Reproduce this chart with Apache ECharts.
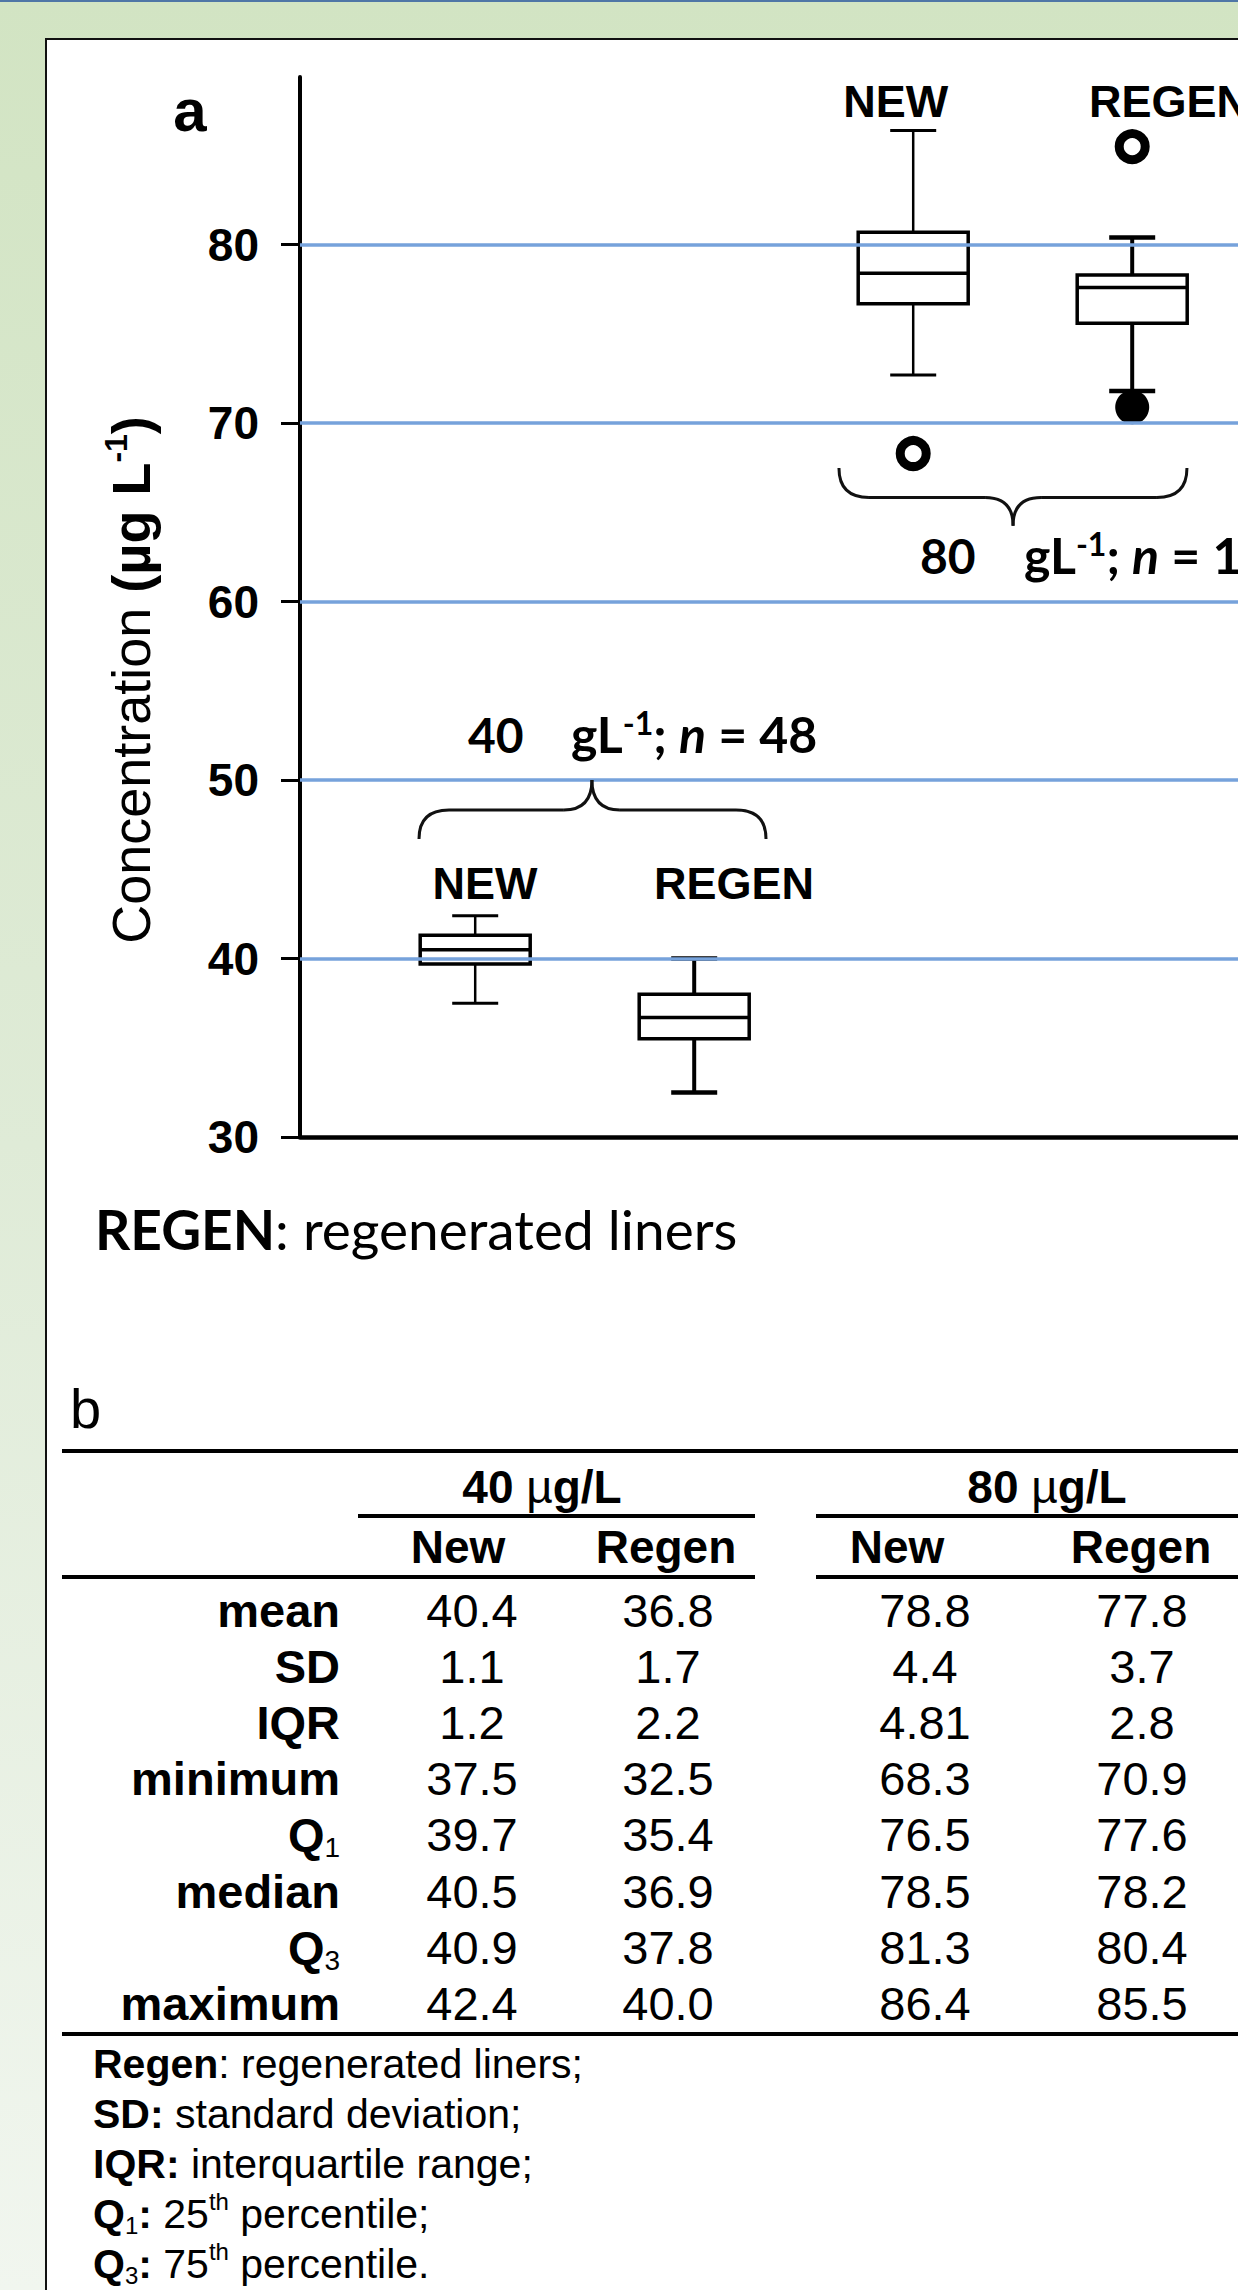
<!DOCTYPE html>
<html><head><meta charset="utf-8">
<script src="https://cdn.jsdelivr.net/npm/echarts@6/dist/echarts.min.js"></script>
<style>
html,body{margin:0;padding:0;overflow:hidden;width:1238px;height:2290px;}
#frame{position:relative;width:1238px;height:2290px;overflow:hidden;background:linear-gradient(to bottom,#d2e4c3 0%,#dfebd7 50%,#f1f6ef 100%);}
#topline{position:absolute;left:0;top:0;width:1238px;height:2px;background:#4f76a6;}
#panel{position:absolute;left:45px;top:38px;width:1500px;height:2400px;background:#fff;border:2px solid #111;}
#chart{position:absolute;left:0;top:0;width:1500px;height:2290px;}
</style></head><body>
<div id="frame"><div id="topline"></div><div id="panel"></div><div id="chart"></div></div>
<script>
// ---------- panel a data ----------
const boxLabels = ['NEW', 'REGEN', 'NEW', 'REGEN'];
const groupLabels = ['40', '80'];
const groupN = ['48', '1'];
// lower whisker, Q1, median, Q3, upper whisker
const boxNew40 = [37.5, 39.7, 40.5, 41.3, 42.4];
const boxRegen40 = [32.5, 35.5, 36.7, 38.0, 40.0];
const boxNew80 = [72.7, 76.7, 78.4, 80.7, 86.4];
const boxRegen80 = [71.8, 75.6, 77.6, 78.3, 80.4];
const outliersOpen = [[], [], [68.3], [85.5]];
const outliersFilled = [[], [], [], [70.9]];
const yTickValues = [30, 40, 50, 60, 70, 80];
const gridLineValues = [40, 50, 60, 70, 80];

// ---------- panel b data ----------
const rowLabels = ['mean', 'SD', 'IQR', 'minimum', 'Q1', 'median', 'Q3', 'maximum'];
const colGroups = ['40', '80'];
const colNames = ['New', 'Regen', 'New', 'Regen'];
const colNew40 = ['40.4', '1.1', '1.2', '37.5', '39.7', '40.5', '40.9', '42.4'];
const colRegen40 = ['36.8', '1.7', '2.2', '32.5', '35.4', '36.9', '37.8', '40.0'];
const colNew80 = ['78.8', '4.4', '4.81', '68.3', '76.5', '78.5', '81.3', '86.4'];
const colRegen80 = ['77.8', '3.7', '2.8', '70.9', '77.6', '78.2', '80.4', '85.5'];

const FA = '"Liberation Sans", Arial, Helvetica, sans-serif';
const FC = 'Lato, Carlito, Calibri, sans-serif';

const boxes = [boxNew40, boxRegen40, boxNew80, boxRegen80];
const boxData = boxes.map((v, i) => [i + 1].concat(v).concat([i]));
const openData = [], filledData = [];
outliersOpen.forEach((a, i) => a.forEach(v => openData.push([i + 1, v])));
outliersFilled.forEach((a, i) => a.forEach(v => filledData.push([i + 1, v])));

const BOX_W = 110, CAP_W = 46;
function renderBox(params, api) {
  const x = api.value(0);
  const idx = api.value(6);
  const p = k => api.coord([x, api.value(k)]);
  const lo = p(1), q1 = p(2), md = p(3), q3 = p(4), hi = p(5);
  const cx = lo[0], hw = BOX_W / 2, cw = CAP_W / 2;
  const isNew = boxLabels[idx] === 'NEW';
  const ww = isNew ? 2.5 : 4, capw = isNew ? 3 : 4.5;
  const ls = { stroke: '#000', lineWidth: ww };
  const cs = { stroke: '#000', lineWidth: capw };
  return { type: 'group', children: [
    { type: 'line', shape: { x1: cx, y1: hi[1], x2: cx, y2: q3[1] }, style: ls },
    { type: 'line', shape: { x1: cx, y1: q1[1], x2: cx, y2: lo[1] }, style: ls },
    { type: 'line', shape: { x1: cx - cw, y1: hi[1], x2: cx + cw, y2: hi[1] }, style: cs },
    { type: 'line', shape: { x1: cx - cw, y1: lo[1], x2: cx + cw, y2: lo[1] }, style: cs },
    { type: 'rect', shape: { x: cx - hw, y: q3[1], width: BOX_W, height: q1[1] - q3[1] }, style: { fill: '#fff', stroke: '#000', lineWidth: 3.5 } },
    { type: 'line', shape: { x1: cx - hw, y1: md[1], x2: cx + hw, y2: md[1] }, style: { stroke: '#000', lineWidth: 3.5 } }
  ]};
}

const chart = echarts.init(document.getElementById('chart'), null, { renderer: 'svg' });
chart.setOption({
  animation: false,
  grid: { left: 300, top: 77, width: 1160.7, height: 1060, containLabel: false },
  xAxis: { type: 'value', min: 0.2, max: 5.5,
    axisLine: { onZero: false, lineStyle: { color: '#000', width: 4.5 } },
    axisTick: { show: false }, axisLabel: { show: false }, splitLine: { show: false } },
  yAxis: { type: 'value', min: 30, max: 89.4, interval: 10,
    axisLine: { show: true, onZero: false, lineStyle: { color: '#000', width: 4 } },
    axisTick: { show: true, length: 19, lineStyle: { color: '#000', width: 3 }, customValues: yTickValues },
    axisLabel: { customValues: yTickValues, margin: 41, color: '#000', fontSize: 46, fontWeight: 'bold', fontFamily: FA },
    splitLine: { show: false } },
  series: [
    { type: 'line', z: 1, data: [], silent: true,
      markLine: { symbol: ['none', 'none'], silent: true, label: { show: false },
        lineStyle: { color: '#76a2db', width: 3.5, type: 'solid' },
        data: gridLineValues.map(v => ({ yAxis: v })) } },
    { type: 'custom', z: 3, silent: true, renderItem: renderBox, data: boxData,
      encode: { x: 0, y: [1, 2, 3, 4, 5] } },
    { type: 'scatter', z: 4, silent: true, symbol: 'circle', symbolSize: 26,
      itemStyle: { color: '#fff', borderColor: '#000', borderWidth: 9, opacity: 1 }, data: openData },
    { type: 'scatter', z: 4, silent: true, symbol: 'circle', symbolSize: 34,
      itemStyle: { color: '#000', opacity: 1 }, data: filledData }
  ]
});

const P = (x, y) => chart.convertToPixel({ xAxisIndex: 0, yAxisIndex: 0 }, [x, y]);
const els = [];
function txt(x, y, text, style) {
  els.push({ type: 'text', x: x, y: y, silent: true, z: 10,
    style: Object.assign({ text: text, fill: '#000', verticalAlign: 'middle' }, style) });
}
function seg(x1, y1, x2, y2, w, color) {
  els.push({ type: 'line', silent: true, z: 10, shape: { x1, y1, x2, y2 }, style: { stroke: color || '#000', lineWidth: w } });
}
function bez(x1, y1, cx, cy, x2, y2, w) {
  els.push({ type: 'bezierCurve', silent: true, z: 10, shape: { x1, y1, x2, y2, cpx1: cx, cpy1: cy }, style: { stroke: '#111', lineWidth: w, fill: null } });
}
function brace(xl, xr, xt, yEnd, yFlat, yTip) {
  const a = P(xl, yEnd), b = P(xr, yEnd), t = P(xt, yTip), f = P(xt, yFlat);
  const yf = f[1], r = 30, rt = 28;
  bez(a[0], a[1], a[0], yf, a[0] + r, yf, 3);
  seg(a[0] + r, yf, t[0] - rt, yf, 3, '#111');
  bez(t[0] - rt, yf, t[0], yf, t[0], t[1], 3);
  bez(t[0], t[1], t[0], yf, t[0] + rt, yf, 3);
  seg(t[0] + rt, yf, b[0] - r, yf, 3, '#111');
  bez(b[0] - r, yf, b[0], yf, b[0], b[1], 3);
}

// panel a annotations
txt(190, 110, 'a', { fontFamily: FA, fontWeight: 'bold', fontSize: 60, align: 'center' });
const labelPos = [[1.045, 44.18], [2.182, 44.18], [2.92, 88.0], [4.168, 88.0]];
boxLabels.forEach((l, i) => {
  const q = P(labelPos[i][0], labelPos[i][1]);
  txt(q[0], q[1], l, { fontFamily: FA, fontWeight: 'bold', fontSize: 45, align: 'center' });
});
brace(0.7434, 2.3279, 1.533, 46.70, 48.32, 50.0);
brace(2.661, 4.250, 3.456, 67.49, 65.84, 64.26);
const groupTextPos = [[0.967, 1.437, 52.56], [3.031, 3.506, 62.59]];
const richC = {
  b: { fontFamily: FC, fontWeight: 'bold', fontSize: 48, lineHeight: 56 },
  b2: { fontFamily: FC, fontWeight: 'bold', fontSize: 50, lineHeight: 56 },
  i: { fontFamily: FC, fontWeight: 'bold', fontStyle: 'italic', fontSize: 50, lineHeight: 56 },
  sup: { fontFamily: FC, fontWeight: 'bold', fontSize: 32, lineHeight: 32, verticalAlign: 'top' }
};
groupLabels.forEach((g, i) => {
  const q1 = P(groupTextPos[i][0], groupTextPos[i][2]);
  const q2 = P(groupTextPos[i][1], groupTextPos[i][2]);
  txt(q1[0], q1[1], '{b|' + g + '}', { align: 'left', rich: richC });
  txt(q2[0], q2[1], '{b2|gL}{sup|-1}{b2|; }{i|n}{b2| = ' + groupN[i] + '}', { align: 'left', rich: richC });
});
// y axis title
els.push({ type: 'text', x: 131, y: 680, rotation: Math.PI / 2, silent: true, z: 10,
  style: { text: '{r|Concentration }{b|(µg L}{sup|-1}{b|)}', align: 'center', verticalAlign: 'middle',
    rich: { r: { fontFamily: FA, fontSize: 54, lineHeight: 62 },
            b: { fontFamily: FA, fontSize: 54, fontWeight: 'bold', lineHeight: 62 },
            sup: { fontFamily: FA, fontSize: 32, fontWeight: 'bold', lineHeight: 34, verticalAlign: 'top' } } } });
// caption
txt(95, 1229, '{b|REGEN}{r|: regenerated liners}', { align: 'left', rich: {
  b: { fontFamily: FC, fontWeight: 'bold', fontSize: 55, lineHeight: 62 },
  r: { fontFamily: FC, fontSize: 55, lineHeight: 62 } } });

// panel b table
txt(70, 1408, 'b', { fontFamily: FA, fontSize: 56, align: 'left' });
const RIGHT = 1500;
seg(62, 1451, RIGHT, 1451, 4);
const groupCx = [542, 1047];
colGroups.forEach((g, i) => txt(groupCx[i], 1486.5, '{b|' + g + ' }{m|µ}{b|g/L}', { align: 'center', rich: {
  b: { fontFamily: FA, fontWeight: 'bold', fontSize: 46, lineHeight: 54 },
  m: { fontFamily: FA, fontSize: 46, lineHeight: 54 } } }));
seg(358, 1516, 755, 1516, 4); seg(816, 1516, RIGHT, 1516, 4);
const headCx = [458, 666, 897, 1141];
colNames.forEach((c, i) => txt(headCx[i], 1547, c, { fontFamily: FA, fontWeight: 'bold', fontSize: 46, align: 'center' }));
seg(62, 1577, 755, 1577, 4); seg(816, 1577, RIGHT, 1577, 4);
const numCx = [472, 668, 925, 1142];
const cols = [colNew40, colRegen40, colNew80, colRegen80];
const richRow = {
  b: { fontFamily: FA, fontWeight: 'bold', fontSize: 47, lineHeight: 54 },
  s: { fontFamily: FA, fontSize: 28, lineHeight: 28, verticalAlign: 'bottom' }
};
rowLabels.forEach((r, k) => {
  const y = 1627 + k * 56.1 - 16.5;
  const t = /^Q\d$/.test(r) ? '{b|Q}{s|' + r[1] + '}' : '{b|' + r + '}';
  txt(340, y, t, { align: 'right', rich: richRow });
  cols.forEach((c, j) => txt(numCx[j], y, c[k], { fontFamily: FA, fontSize: 47, align: 'center' }));
});
seg(62, 2034, RIGHT, 2034, 4);
const footnotes = [
  '{b|Regen}{r|: regenerated liners;}',
  '{b|SD:}{r| standard deviation;}',
  '{b|IQR:}{r| interquartile range;}',
  '{b|Q}{s|1}{b|:}{r| 25}{sup|th}{r| percentile;}',
  '{b|Q}{s|3}{b|:}{r| 75}{sup|th}{r| percentile.}'
];
const richFoot = {
  b: { fontFamily: FA, fontWeight: 'bold', fontSize: 41, lineHeight: 48 },
  r: { fontFamily: FA, fontSize: 41, lineHeight: 48 },
  s: { fontFamily: FA, fontSize: 24, lineHeight: 26, verticalAlign: 'bottom' },
  sup: { fontFamily: FA, fontSize: 24, lineHeight: 26, verticalAlign: 'top' }
};
footnotes.forEach((f, k) => txt(93, 2078 + k * 50 - 14.4, f, { align: 'left', rich: richFoot }));

chart.setOption({ graphic: { elements: els } });
</script>
</body></html>
